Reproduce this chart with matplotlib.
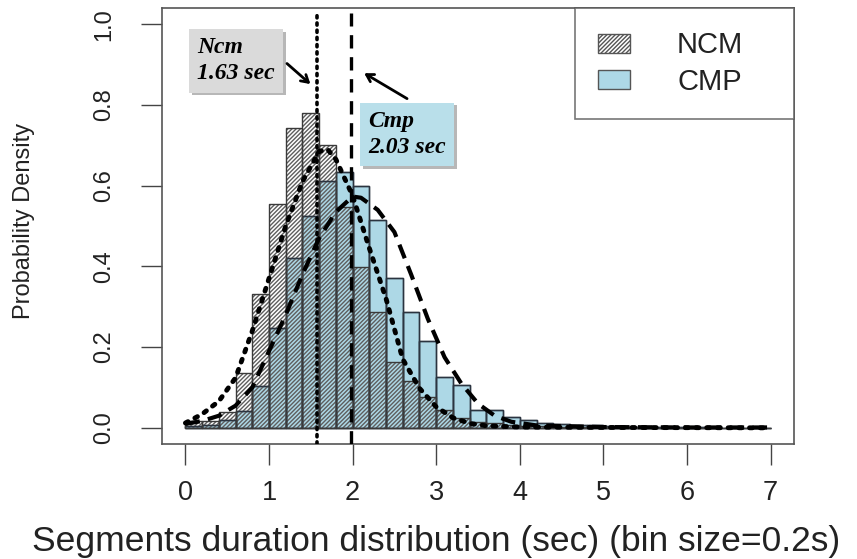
import numpy as np
import matplotlib
matplotlib.use("Agg")
import matplotlib.pyplot as plt
from matplotlib import patheffects
from matplotlib.patches import Patch

# ---------------- data ----------------
bin_width = 0.2
bin_left = [round(i * 0.2, 1) for i in range(35)]  # 0.0 .. 6.8

ncm_density = [0.016, 0.016, 0.039, 0.135, 0.331, 0.555, 0.742, 0.779, 0.701, 0.548,
               0.398, 0.288, 0.164, 0.117, 0.076, 0.044, 0.024, 0.015, 0.012, 0.008,
               0.005, 0.004, 0.003, 0.002, 0.002, 0.001, 0.001, 0.001, 0.0, 0.0,
               0.0, 0.0, 0.0, 0.0, 0.0]
cmp_density = [0.004, 0.008, 0.020, 0.042, 0.103, 0.248, 0.420, 0.525, 0.612, 0.635,
               0.599, 0.515, 0.370, 0.286, 0.216, 0.127, 0.106, 0.045, 0.043, 0.027,
               0.020, 0.013, 0.009, 0.007, 0.008, 0.004, 0.003, 0.002, 0.002, 0.001,
               0.001, 0.001, 0.0005, 0.0005, 0.0005]

ncm_curve_x = [0.0, 0.2, 0.4, 0.6, 0.8, 1.0, 1.2, 1.4, 1.6, 1.7, 1.8, 2.0, 2.2, 2.4,
               2.6, 2.8, 3.0, 3.2, 3.4, 3.6, 4.0, 5.0, 6.0, 7.0]
ncm_curve_y = [0.012, 0.034, 0.066, 0.124, 0.240, 0.370, 0.500, 0.610, 0.685, 0.690,
               0.665, 0.575, 0.445, 0.320, 0.170, 0.098, 0.052, 0.025, 0.011, 0.005,
               0.002, 0.001, 0.0005, 0.0]

cmp_curve_x = [0.0, 0.2, 0.4, 0.6, 0.8, 1.0, 1.2, 1.4, 1.6, 1.8, 2.0, 2.1, 2.3, 2.5,
               2.7, 2.9, 3.1, 3.3, 3.5, 3.7, 3.9, 4.2, 5.0, 6.0, 7.0]
cmp_curve_y = [0.010, 0.017, 0.030, 0.055, 0.100, 0.190, 0.280, 0.380, 0.470, 0.535,
               0.573, 0.570, 0.540, 0.485, 0.380, 0.270, 0.175, 0.110, 0.060, 0.030,
               0.015, 0.006, 0.002, 0.001, 0.001]

ncm_mean_line = 1.58
cmp_mean_line = 1.98

series_names = ["NCM", "CMP"]
ncm_label = "Ncm\n1.63 sec"
cmp_label = "Cmp\n2.03 sec"

x_ticks = [0, 1, 2, 3, 4, 5, 6, 7]
y_ticks = [0.0, 0.2, 0.4, 0.6, 0.8, 1.0]
x_label = "Segments duration distribution (sec) (bin size=0.2s)"
y_label = "Probability Density"

# ---------------- styling ----------------
W, H = 857, 559
plt.rcParams["font.family"] = ["Liberation Sans", "DejaVu Sans"]
plt.rcParams["hatch.linewidth"] = 1.0

fig = plt.figure(figsize=(W / 100, H / 100), dpi=100)
ax = fig.add_axes([162 / W, 1 - 444 / H, (794 - 162) / W, (444 - 8) / H])

blue = "#add8e6"
edge_dark = "#2b3440"

# CMP bars (filled)
ax.bar(bin_left, cmp_density, width=bin_width, align="edge",
       color=blue, edgecolor=edge_dark, linewidth=1.0, zorder=2)
# NCM bars (hatched, transparent)
ax.bar(bin_left, ncm_density, width=bin_width, align="edge",
       facecolor="none", edgecolor="#5e5e5e", hatch="////////", linewidth=0, zorder=3)
ax.bar(bin_left, ncm_density, width=bin_width, align="edge",
       fill=False, edgecolor="#3a3a3a", linewidth=1.0, zorder=3.5)
ax.bar(bin_left, cmp_density, width=bin_width, align="edge",
       fill=False, edgecolor=edge_dark, linewidth=1.0, zorder=3.4)

# density curves
ax.plot(ncm_curve_x, ncm_curve_y, color="black", lw=3.5, linestyle=(0, (0.6, 1.6)),
        dash_capstyle="round", zorder=5)
ax.plot(cmp_curve_x, cmp_curve_y, color="black", lw=3.0, linestyle=(0, (3.5, 2.0)),
        zorder=5)

# mean lines
ax.axvline(ncm_mean_line, ymin=0, ymax=0.988, color="black", lw=2.6,
           linestyle=(0, (0.6, 1.4)), dash_capstyle="round", zorder=4)
ax.axvline(cmp_mean_line, ymin=0, ymax=0.988, color="black", lw=2.4,
           linestyle=(0, (4.0, 2.6)), zorder=4)

ax.set_xlim(-0.28, 7.28)
ax.set_ylim(-0.04, 1.04)
ax.set_xticks(x_ticks)
ax.set_yticks(y_ticks)
ax.set_xticklabels([str(t) for t in x_ticks], fontsize=19.5, color="#222222")
ax.set_yticklabels([f"{t:.1f}" for t in y_ticks], fontsize=17, color="#222222",
                   rotation=90, va="center")
ax.tick_params(axis="both", direction="out", length=15, width=1.0, color="#444444")
ax.tick_params(axis="x", pad=11)
ax.tick_params(axis="y", pad=19)
for s in ax.spines.values():
    s.set_color("#555555")
    s.set_linewidth(1.2)

fig.text(436 / W, 1 - 542 / H, x_label, ha="center", va="center", fontsize=25.5,
         color="#222222")
fig.text(24 / W, 1 - 221 / H, y_label, ha="center", va="center", rotation=90,
         fontsize=17, color="#222222")

# annotation boxes
shadow = [patheffects.withSimplePatchShadow(offset=(2, -2), shadow_rgbFace="#888888",
                                            alpha=0.6)]
t1 = ax.text(0.14, 0.909, ncm_label, ha="left", va="center", fontsize=17,
             family="Liberation Serif", fontweight="bold", fontstyle="italic",
             linespacing=1.3, zorder=6,
             bbox=dict(boxstyle="square,pad=0.35", fc="#dadada", ec="none"))
t1.get_bbox_patch().set_path_effects(shadow)
t2 = ax.text(2.19, 0.727, cmp_label, ha="left", va="center", fontsize=17,
             family="Liberation Serif", fontweight="bold", fontstyle="italic",
             linespacing=1.3, zorder=6,
             bbox=dict(boxstyle="square,pad=0.35", fc="#b9dfea", ec="none"))
t2.get_bbox_patch().set_path_effects(shadow)

ax.annotate("", xy=(1.52, 0.847), xytext=(1.19, 0.907),
            arrowprops=dict(arrowstyle="->,head_length=0.5,head_width=0.3", lw=2.0,
                            color="black"), zorder=6)
ax.annotate("", xy=(2.11, 0.882), xytext=(2.68, 0.812),
            arrowprops=dict(arrowstyle="->,head_length=0.5,head_width=0.3", lw=2.0,
                            color="black"), zorder=6)

# legend
handles = [Patch(facecolor="white", edgecolor="#555555", hatch="////////", label=series_names[0]),
           Patch(facecolor=blue, edgecolor="#555555", label=series_names[1])]
leg = ax.legend(handles=handles, loc="upper left",
                bbox_to_anchor=((575 - 162) / 632, 0, (794 - 575) / 632, 1.0),
                mode="expand", borderaxespad=0, fontsize=21, frameon=True,
                fancybox=False, edgecolor="#555555", borderpad=0.8,
                handlelength=1.1, handleheight=0.62, handletextpad=1.6,
                labelspacing=0.28)
leg.get_frame().set_linewidth(1.2)
for txt in leg.get_texts():
    txt.set_color("#222222")

fig.savefig("out.png", dpi=100)
